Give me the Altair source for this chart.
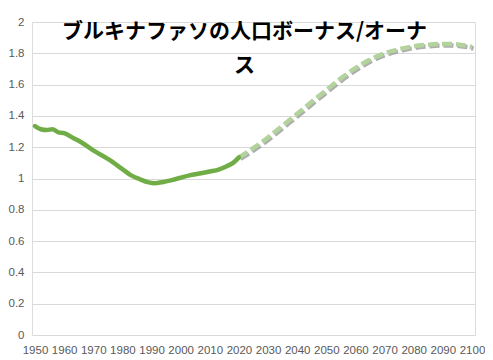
import altair as alt
import pandas as pd

# Historical (solid) series
hist_years = [1950, 1952, 1954, 1956, 1958, 1960, 1963, 1966, 1970, 1975, 1980, 1983,
              1986, 1989, 1991, 1994, 1997, 2000, 2003, 2007, 2010, 2013, 2016, 2018, 2020]
hist_vals = [1.335, 1.315, 1.31, 1.315, 1.295, 1.29, 1.26, 1.23, 1.18, 1.125, 1.06, 1.02,
             0.995, 0.975, 0.97, 0.978, 0.99, 1.005, 1.02, 1.034, 1.045, 1.057, 1.08, 1.10, 1.135]

# Projection (dashed) series
proj_years = [2020, 2025, 2030, 2035, 2040, 2045, 2050, 2055, 2060, 2065, 2070,
              2075, 2080, 2085, 2090, 2095, 2100]
proj_vals = [1.135, 1.195, 1.262, 1.338, 1.413, 1.49, 1.565, 1.64, 1.705, 1.76, 1.80,
             1.826, 1.845, 1.855, 1.86, 1.857, 1.84]

x_ticks = list(range(1950, 2101, 10))
y_ticks = [0, 0.2, 0.4, 0.6, 0.8, 1.0, 1.2, 1.4, 1.6, 1.8, 2.0]
title_lines = ["ブルキナファソの人口ボーナス/オーナ", "ス"]

hist = pd.DataFrame({"year": hist_years, "value": hist_vals})
proj = pd.DataFrame({"year": proj_years, "value": proj_vals})

x = alt.X("year:Q",
          scale=alt.Scale(domain=[1950, 2100], nice=False, zero=False, padding=3),
          axis=alt.Axis(values=x_ticks, format="d", title=None, grid=False, domain=False,
                        ticks=False, labelPadding=9, labelFontSize=11.5,
                        labelColor="#595959", labelFont="Liberation Sans", labelFlush=False))
y = alt.Y("value:Q",
          scale=alt.Scale(domain=[0, 2], nice=False),
          axis=alt.Axis(values=y_ticks, format=".1~f", title=None, grid=True,
                        gridColor="#d9d9d9", gridWidth=1, domain=False, ticks=False,
                        labelPadding=8, labelFontSize=11.5, labelColor="#595959",
                        labelFont="Liberation Sans"))

solid = alt.Chart(hist).mark_line(color="#70ad47", strokeWidth=4.5,
                                  strokeCap="round", strokeJoin="round",
                                  interpolate="monotone").encode(x=x, y=y)
shadow = alt.Chart(proj).mark_line(color="#9a9a9a", strokeWidth=4.5, opacity=0.8,
                                   strokeDash=[10, 4], xOffset=1.5, yOffset=1.5,
                                   interpolate="monotone").encode(x=x, y=y)
dashed = alt.Chart(proj).mark_line(color="#b3d39c", strokeWidth=4.5,
                                   strokeDash=[10, 4],
                                   interpolate="monotone").encode(x=x, y=y)

chart = alt.layer(shadow, dashed, solid).properties(
    width=443, height=313,
    autosize=alt.AutoSizeParams(type="none"),
    padding={"left": 24, "top": 14, "right": 10, "bottom": 30},
    title=alt.TitleParams(text=title_lines, font="Noto Sans CJK JP", fontSize=21,
                          fontWeight="bold", color="#000000", lineHeight=34,
                          anchor="middle", offset=0, dy=60, dx=-9),
).configure_view(stroke=None).configure(background="white")

chart.save("out.html", embed_options={"renderer": "svg", "actions": False})
